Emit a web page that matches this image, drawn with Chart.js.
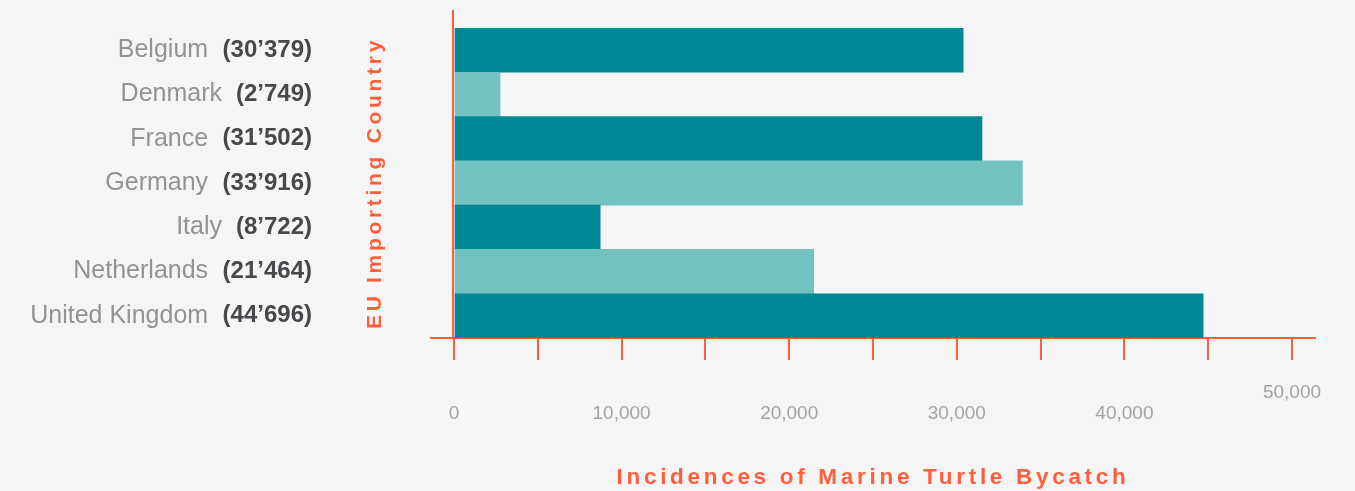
<!DOCTYPE html>
<html>
<head>
<meta charset="utf-8">
<script src="https://cdn.jsdelivr.net/npm/chart.js@4/dist/chart.umd.min.js"></script>
<style>
  body { margin: 0; background: #f5f5f5; }
  #wrap { width: 1355px; height: 491px; }
</style>
</head>
<body>
<div id="wrap"><canvas id="bycatchChart"></canvas></div>
<script>
const countries = ['Belgium', 'Denmark', 'France', 'Germany', 'Italy', 'Netherlands', 'United Kingdom'];
const bycatch = [30379, 2749, 31502, 33916, 8722, 21464, 44696];
const tickValues = [0, 5000, 10000, 15000, 20000, 25000, 30000, 35000, 40000, 45000, 50000];
const labelledTicks = [0, 10000, 20000, 30000, 40000, 50000];

const orange = '#ff5f3c';
const darkTeal = '#008894';
const lightTeal = '#72c2c1';
const fontFamily = "'Liberation Sans', Arial, sans-serif";
const nameSize = 25;
const valueSize = 24;

Chart.defaults.font.family = fontFamily;

// value labels like (30’379)
const valueLabels = bycatch.map(v => '(' + v.toLocaleString('en-US').replace(',', '\u2019') + ')');

const labelsRight = 312;   // right edge of the value labels
const plotLeft = 431;      // where the x axis line starts
const nameGap = 13.5;      // space between a name and its value

// names sit right next to their value, so pad them with spaces
// (left/right axis labels get clipped to their own axis box)
const measure = document.createElement('canvas').getContext('2d');
measure.font = 'bold ' + valueSize + 'px ' + fontFamily;
const valueWidths = valueLabels.map(t => measure.measureText(t).width);
const valueAxisWidth = Math.ceil(Math.max(...valueWidths));
const namesRight = labelsRight - valueAxisWidth;
measure.font = nameSize + 'px ' + fontFamily;
const spaceWidth = measure.measureText(' ').width;
const nameLabels = countries.map((c, i) => {
    const pad = namesRight - (labelsRight - valueWidths[i] - nameGap);
    return c + ' '.repeat(Math.max(0, Math.round(pad / spaceWidth)));
});

// titles are letter-spaced, tick labels are not
const spacingPlugin = {
    id: 'spacing',
    beforeDraw(chart) {
        chart.ctx.letterSpacing = '3.7px';
    },
    beforeDatasetsDraw(chart) {
        const ctx = chart.ctx;
        ctx.letterSpacing = '0px';
        // y axis line, runs a bit above the bars
        const x0 = chart.scales.x.getPixelForValue(0) - 1;
        ctx.save();
        ctx.strokeStyle = orange;
        ctx.lineWidth = 2;
        ctx.beginPath();
        ctx.moveTo(x0, chart.chartArea.top - 18);
        ctx.lineTo(x0, chart.chartArea.bottom);
        ctx.stroke();
        ctx.restore();
    }
};

const ctx = document.getElementById('bycatchChart').getContext('2d');
new Chart(ctx, {
    type: 'bar',
    data: {
        labels: countries,
        datasets: [{
            data: bycatch,
            backgroundColor: bycatch.map((_, i) => i % 2 === 0 ? darkTeal : lightTeal),
            borderWidth: 0,
            barPercentage: 1,
            categoryPercentage: 1
        }]
    },
    plugins: [spacingPlugin],
    options: {
        indexAxis: 'y',
        responsive: true,
        maintainAspectRatio: false,
        animation: false,
        layout: { padding: { top: 28, right: 40, bottom: 0, left: 0 } },
        plugins: {
            legend: { display: false },
            tooltip: { enabled: false }
        },
        scales: {
            x: {
                type: 'linear',
                min: -1372,
                max: 51373,
                afterBuildTicks: (scale) => {
                    scale.ticks = tickValues.map(v => ({ value: v }));
                },
                afterFit: (scale) => { scale.height = 153; },
                grid: {
                    drawOnChartArea: false,
                    drawTicks: true,
                    tickLength: 22,
                    color: orange,
                    lineWidth: 2
                },
                border: { display: true, color: orange, width: 2 },
                ticks: {
                    z: 1,
                    autoSkip: false,
                    maxRotation: 0,
                    minRotation: 0,
                    padding: 22,
                    color: '#a3a3a3',
                    font: { size: 19, lineHeight: 1.1 },
                    callback: (value) => {
                        if (!labelledTicks.includes(value)) return '';
                        const text = value.toLocaleString('en-US');
                        return value === 50000 ? text : ['', text];
                    }
                },
                title: {
                    display: true,
                    text: 'Incidences of Marine Turtle Bycatch',
                    color: orange,
                    font: { size: 22.5, weight: 'bold' },
                    padding: { top: 0, bottom: 0 }
                }
            },
            y: {
                type: 'category',
                position: 'left',
                weight: 0,
                offset: true,
                afterFit: (scale) => { scale.width = plotLeft - labelsRight; },
                grid: { display: false },
                border: { display: false },
                ticks: { display: false },
                title: {
                    display: true,
                    text: 'EU Importing Country',
                    color: orange,
                    font: { size: 21, weight: 'bold' },
                    padding: { top: 51, bottom: 0 }
                }
            },
            yVal: {
                type: 'category',
                axis: 'y',
                position: 'left',
                weight: 1,
                offset: true,
                labels: valueLabels,
                afterFit: (scale) => { scale.width = valueAxisWidth; },
                grid: { display: false, drawTicks: false },
                border: { display: false },
                ticks: {
                    z: 1,
                    padding: 0,
                    color: '#48484c',
                    font: { size: valueSize, weight: 'bold' }
                }
            },
            yName: {
                type: 'category',
                axis: 'y',
                position: 'left',
                weight: 2,
                offset: true,
                labels: countries,
                afterFit: (scale) => { scale.width = namesRight; },
                grid: { display: false, drawTicks: false },
                border: { display: false },
                ticks: {
                    z: 1,
                    padding: 0,
                    color: '#939393',
                    font: { size: nameSize },
                    callback: (value, index) => nameLabels[index]
                }
            }
        }
    }
});
</script>
</body>
</html>
